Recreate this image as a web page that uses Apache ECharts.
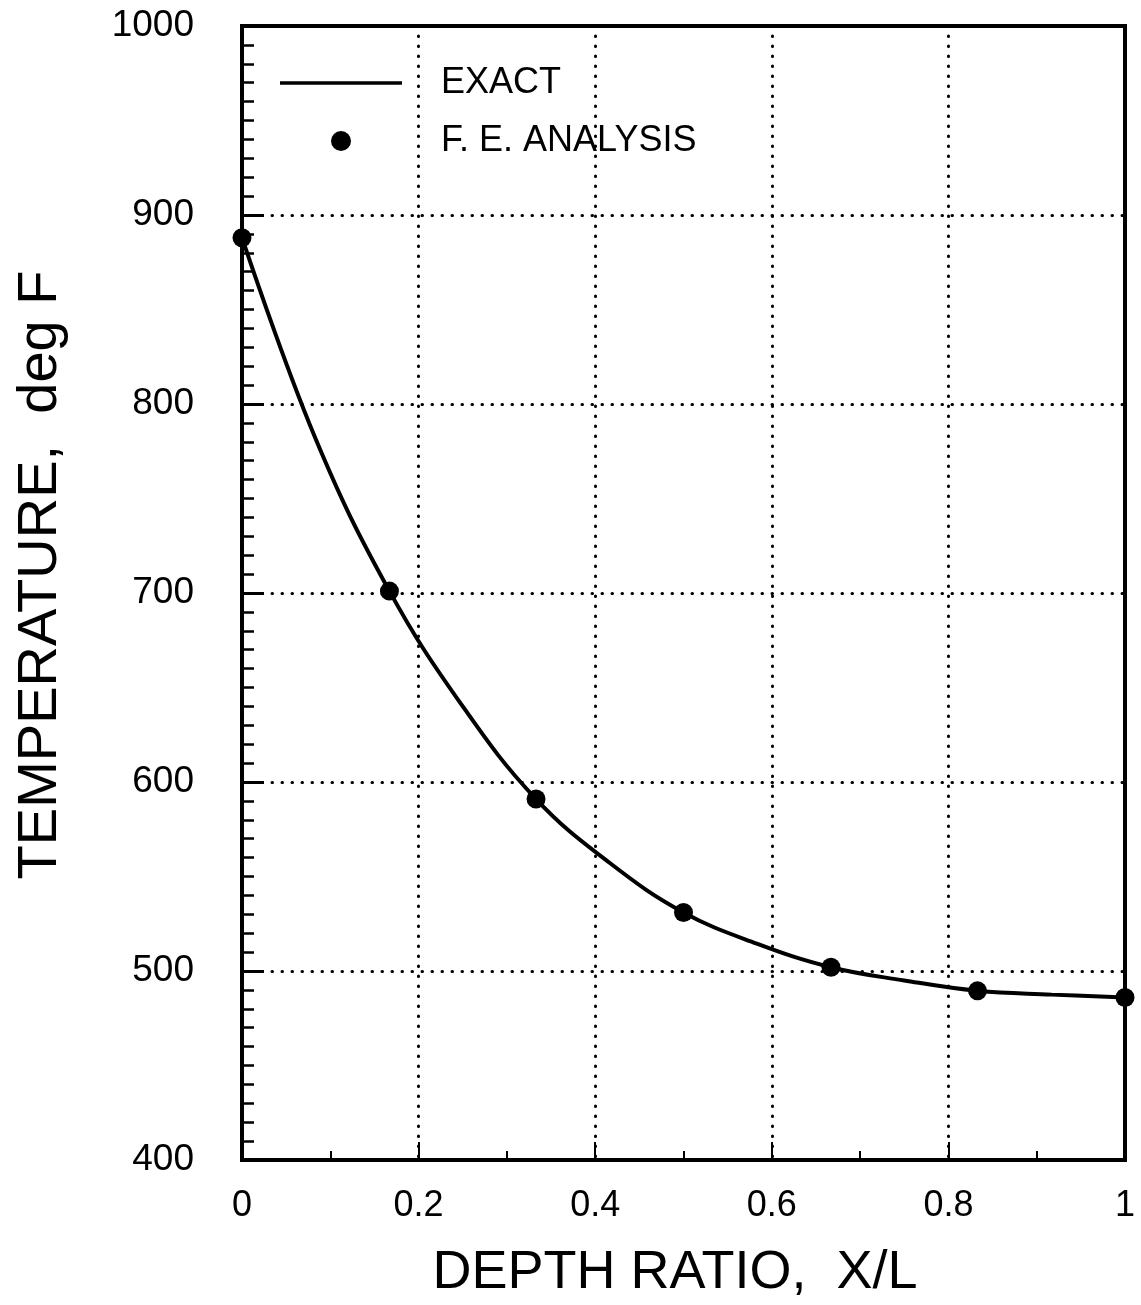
<!DOCTYPE html>
<html>
<head>
<meta charset="utf-8">
<title>Temperature vs depth ratio</title>
<script src="https://cdn.jsdelivr.net/npm/echarts@6/dist/echarts.min.js"></script>
<style>
  html, body { margin: 0; padding: 0; background: #fff; }
  #main { width: 1141px; height: 1305px; }
</style>
</head>
<body>
<div id="main"></div>
<script>
// exact solution
var exactX = [0, 0.083, 0.167, 0.25, 0.333, 0.417, 0.5, 0.583, 0.667, 0.75, 0.833, 0.917, 1];
var exactT = [888, 782, 701, 640, 591, 557, 531, 514.5, 502, 495, 489.5, 487.5, 486];
// finite element nodes
var feX = [0, 0.167, 0.333, 0.5, 0.667, 0.833, 1];
var feT = [888, 701, 591, 531, 502, 489.5, 486];
// axis labels
var xTicks = ['0', '0.2', '0.4', '0.6', '0.8', '1'];
var yTicks = [400, 500, 600, 700, 800, 900, 1000];

var font = "'Liberation Sans', Arial, Helvetica, sans-serif";

function pairs(xs, ys){
	var out = [];
	for(var i=0; i<xs.length; i++){
		out.push([xs[i], ys[i]]);
	}
	return out;
}

var myChart = echarts.init(document.getElementById('main'));

// dotted grid lines
var dotted = {
	color: '#000',
	width: 3,
	type: [0.5, 9.5],
	cap: 'round'
};

var option = {
	backgroundColor: '#fff',
	animation: false,
	grid: {
		left: 242,
		right: 16,
		top: 26,
		bottom: 140,
		show: true,
		borderColor: '#000',
		borderWidth: 4
	},
	legend: {
		orient: 'vertical',
		left: 275,
		top: 58,
		itemWidth: 122,
		itemHeight: 20,
		itemGap: 18,
		data: [
			{ name: 'EXACT', icon: 'path://M0,0L122,0L122,3.5L0,3.5Z' },
			{ name: 'F. E. ANALYSIS', icon: 'circle' }
		],
		textStyle: {
			color: '#000',
			fontFamily: font,
			fontSize: 36,
			lineHeight: 40,
			padding: [0, 0, 0, 34]
		}
	},
	xAxis: {
		type: 'value',
		min: 0,
		max: 1,
		interval: 0.2,
		name: 'DEPTH RATIO,  X/L',
		nameLocation: 'middle',
		nameGap: 86,
		nameTextStyle: {
			color: '#000',
			fontFamily: font,
			fontSize: 54,
			padding: [0, 17, 0, 0]
		},
		axisLine: { lineStyle: { color: '#000', width: 4 } },
		axisTick: { inside: true, length: 18, lineStyle: { color: '#000', width: 2 } },
		minorTick: { show: true, splitNumber: 2, length: 9, lineStyle: { color: '#000', width: 2 } },
		axisLabel: {
			color: '#000',
			fontFamily: font,
			fontSize: 36,
			margin: 28,
			formatter: function(v){
				return xTicks[Math.round(v/0.2)];
			}
		},
		splitLine: { show: true, lineStyle: dotted }
	},
	yAxis: {
		type: 'value',
		min: 400,
		max: 1000,
		interval: 100,
		name: 'TEMPERATURE,  deg F',
		nameLocation: 'middle',
		nameGap: 173,
		nameTextStyle: {
			color: '#000',
			fontFamily: font,
			fontSize: 56,
			padding: [0, 0, 0, 36]
		},
		axisLine: { lineStyle: { color: '#000', width: 4 } },
		axisTick: { inside: true, length: 22, lineStyle: { color: '#000', width: 3 } },
		minorTick: { show: true, splitNumber: 10, length: 12, lineStyle: { color: '#000', width: 2.5 } },
		axisLabel: {
			color: '#000',
			fontFamily: font,
			fontSize: 37,
			margin: 48,
			formatter: function(v){
				return yTicks.indexOf(v) >= 0 ? String(v) : '';
			}
		},
		splitLine: { show: true, lineStyle: dotted }
	},
	series: [
		{
			name: 'EXACT',
			type: 'line',
			data: pairs(exactX, exactT),
			smooth: 0.4,
			showSymbol: false,
			symbol: 'none',
			lineStyle: { color: '#000', width: 4 },
			itemStyle: { color: '#000' },
			z: 3
		},
		{
			name: 'F. E. ANALYSIS',
			type: 'scatter',
			data: pairs(feX, feT),
			symbol: 'circle',
			symbolSize: 19,
			itemStyle: { color: '#000', opacity: 1 },
			z: 4
		}
	]
};
myChart.setOption(option);
</script>
</body>
</html>
